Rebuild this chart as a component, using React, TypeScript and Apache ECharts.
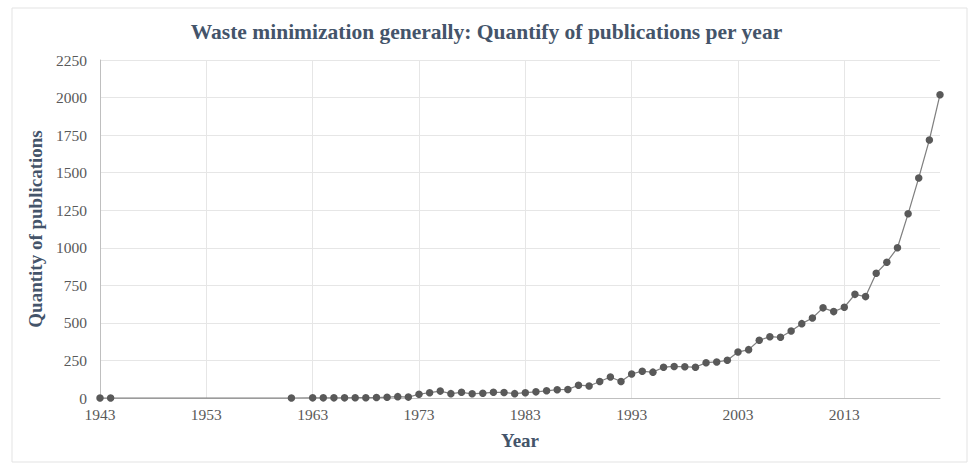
import React, { useEffect, useRef } from "react";
import * as echarts from "echarts";

const years: number[] = [
  1943, 1944, 1961, 1963, 1964, 1965, 1966, 1967, 1968, 1969, 1970, 1971, 1972,
  1973, 1974, 1975, 1976, 1977, 1978, 1979, 1980, 1981, 1982, 1983, 1984, 1985,
  1986, 1987, 1988, 1989, 1990, 1991, 1992, 1993, 1994, 1995, 1996, 1997, 1998,
  1999, 2000, 2001, 2002, 2003, 2004, 2005, 2006, 2007, 2008, 2009, 2010, 2011,
  2012, 2013, 2014, 2015, 2016, 2017, 2018, 2019, 2020, 2021, 2022,
];
const publications: number[] = [
  0, 0, 0, 1, 1, 1, 1, 2, 2, 3, 5, 9, 6,
  25, 35, 46, 29, 38, 28, 32, 38, 37, 29, 35, 41, 48,
  55, 57, 85, 80, 110, 140, 110, 160, 178, 172, 205, 210, 208,
  205, 235, 240, 251, 306, 322, 384, 408, 404, 446, 495, 533, 600,
  575, 604, 690, 675, 830, 904, 1000, 1226, 1465, 1718, 2019,
];

const titleText = "Waste minimization generally: Quantify of publications per year";
const yAxisName = "Quantity of publications";
const xAxisName = "Year";

const FONT = '"Liberation Serif", "Times New Roman", serif';

export default function App() {
  const ref = useRef<HTMLDivElement>(null);
  useEffect(() => {
    document.body.style.margin = "0";
    if (!ref.current) return;
    const chart = echarts.init(ref.current, undefined, { renderer: "svg" });
    const data = years.map((y, i) => [y, publications[i]]);
    chart.setOption({
      animation: false,
      backgroundColor: "#ffffff",
      textStyle: { fontFamily: FONT },
      title: {
        text: titleText,
        left: "center",
        top: 16,
        textStyle: {
          fontFamily: FONT,
          fontSize: 21.5,
          fontWeight: "bold",
          color: "#44546A",
        },
      },
      graphic: [
        {
          type: "rect",
          shape: { x: 12, y: 8, width: 955, height: 454 },
          style: { fill: "none", stroke: "#e3e3e3", lineWidth: 1 },
          silent: true,
          z: -1,
        },
      ],
      grid: { left: 100, right: 33, top: 60, bottom: 67 },
      xAxis: {
        type: "value",
        min: 1943,
        max: 2022,
        interval: 10,
        name: xAxisName,
        nameLocation: "middle",
        nameGap: 33,
        nameTextStyle: {
          fontFamily: FONT,
          fontSize: 19,
          fontWeight: "bold",
          color: "#44546A",
        },
        axisLine: { show: true, lineStyle: { color: "#bfbfbf", width: 1 } },
        axisTick: { show: false },
        axisLabel: {
          fontFamily: FONT,
          fontSize: 15.5,
          color: "#595959",
          margin: 8,
          showMaxLabel: false,
          formatter: (v: number) => String(v),
        },
        splitLine: {
          show: true,
          showMaxLine: false,
          lineStyle: { color: "#e6e6e6", width: 1 },
        },
      },
      yAxis: {
        type: "value",
        min: 0,
        max: 2250,
        interval: 250,
        name: yAxisName,
        nameLocation: "middle",
        nameGap: 52,
        nameTextStyle: {
          fontFamily: FONT,
          fontSize: 19,
          fontWeight: "bold",
          color: "#44546A",
        },
        axisLine: { show: true, lineStyle: { color: "#bfbfbf", width: 1 } },
        axisTick: { show: false },
        axisLabel: {
          fontFamily: FONT,
          fontSize: 15.5,
          color: "#595959",
          margin: 13,
          formatter: (v: number) => String(v),
        },
        splitLine: { show: true, lineStyle: { color: "#e6e6e6", width: 1 } },
      },
      series: [
        {
          type: "line",
          data,
          symbol: "circle",
          symbolSize: 7.5,
          lineStyle: { color: "#808080", width: 1.25 },
          itemStyle: { color: "#595959" },
        },
      ],
    });
    return () => chart.dispose();
  }, []);
  return <div ref={ref} style={{ width: 973, height: 465 }} />;
}
